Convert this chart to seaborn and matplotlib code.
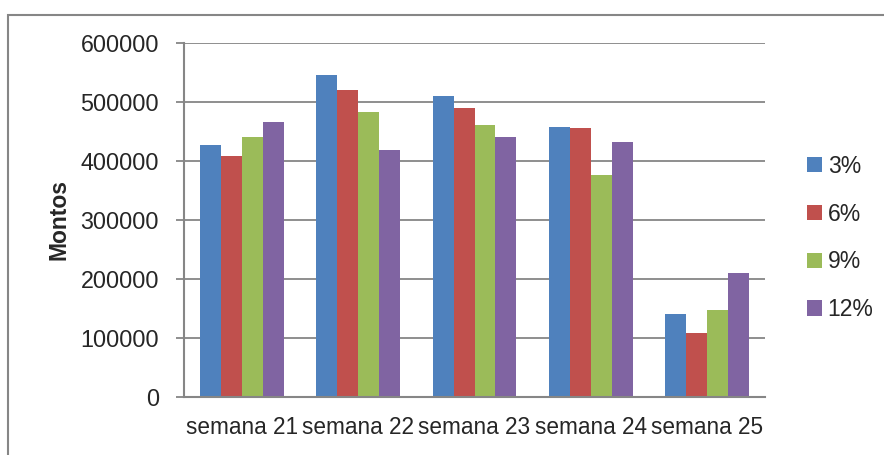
import pandas as pd
import matplotlib.pyplot as plt
from matplotlib.patches import Rectangle
import seaborn as sns

# datos
semanas = ["semana 21", "semana 22", "semana 23", "semana 24", "semana 25"]
series = ["3%", "6%", "9%", "12%"]
montos_3 = [427000, 545000, 510000, 457000, 141000]
montos_6 = [408000, 520000, 490000, 456000, 109000]
montos_9 = [440000, 483000, 461000, 377000, 147000]
montos_12 = [466000, 418000, 440000, 432000, 210000]
colores = ["#4F81BD", "#C0504D", "#9BBB59", "#8064A2"]
yticks = [0, 100000, 200000, 300000, 400000, 500000, 600000]

sns.set_style("white")
plt.rcParams["font.family"] = ["Liberation Sans", "DejaVu Sans"]
GRIS = "#868686"

df = pd.DataFrame({
    "semana": semanas * 4,
    "serie": [s for s in series for _ in semanas],
    "monto": montos_3 + montos_6 + montos_9 + montos_12,
})

fig = plt.figure(figsize=(8.84, 4.55), dpi=100)
ax = fig.add_axes([184 / 884, 1 - 397 / 455, (765 - 184) / 884, (397 - 43) / 455])

sns.barplot(data=df, x="semana", y="monto", hue="serie", hue_order=series,
            palette=colores, width=0.72, linewidth=0, saturation=1, ax=ax)

ax.set_ylim(0, 600000)
ax.set_yticks(yticks)
ax.set_yticklabels([str(v) for v in yticks])
ax.yaxis.grid(True, color=GRIS, linewidth=1.3)
ax.set_axisbelow(True)

for lado in ["top", "right"]:
    ax.spines[lado].set_visible(False)
for lado in ["left", "bottom"]:
    ax.spines[lado].set_color(GRIS)
    ax.spines[lado].set_linewidth(1.5)

ax.tick_params(axis="y", direction="out", length=6, width=1.3, color=GRIS,
               pad=12, labelsize=16.8, left=True)
ax.tick_params(axis="x", length=0, pad=14, labelsize=16.3)
ax.set_xlabel("")
ax.set_ylabel("Montos", fontsize=16.5, fontweight="bold", labelpad=7)

ax.legend(loc="center left", bbox_to_anchor=(807 / 884, 1 - 238 / 455),
          bbox_transform=fig.transFigure, frameon=False, fontsize=16.5,
          borderpad=0, borderaxespad=0, handlelength=0.65, handleheight=0.65,
          handletextpad=0.25, labelspacing=1.08)

# marco exterior del gráfico
fig.patches.append(Rectangle((8 / 884, -0.2), 1.2, 1.2 + (1 - 15 / 455) - 1.0,
                             transform=fig.transFigure, fill=False,
                             edgecolor=GRIS, linewidth=1.5))

fig.savefig("out.png", dpi=100)
